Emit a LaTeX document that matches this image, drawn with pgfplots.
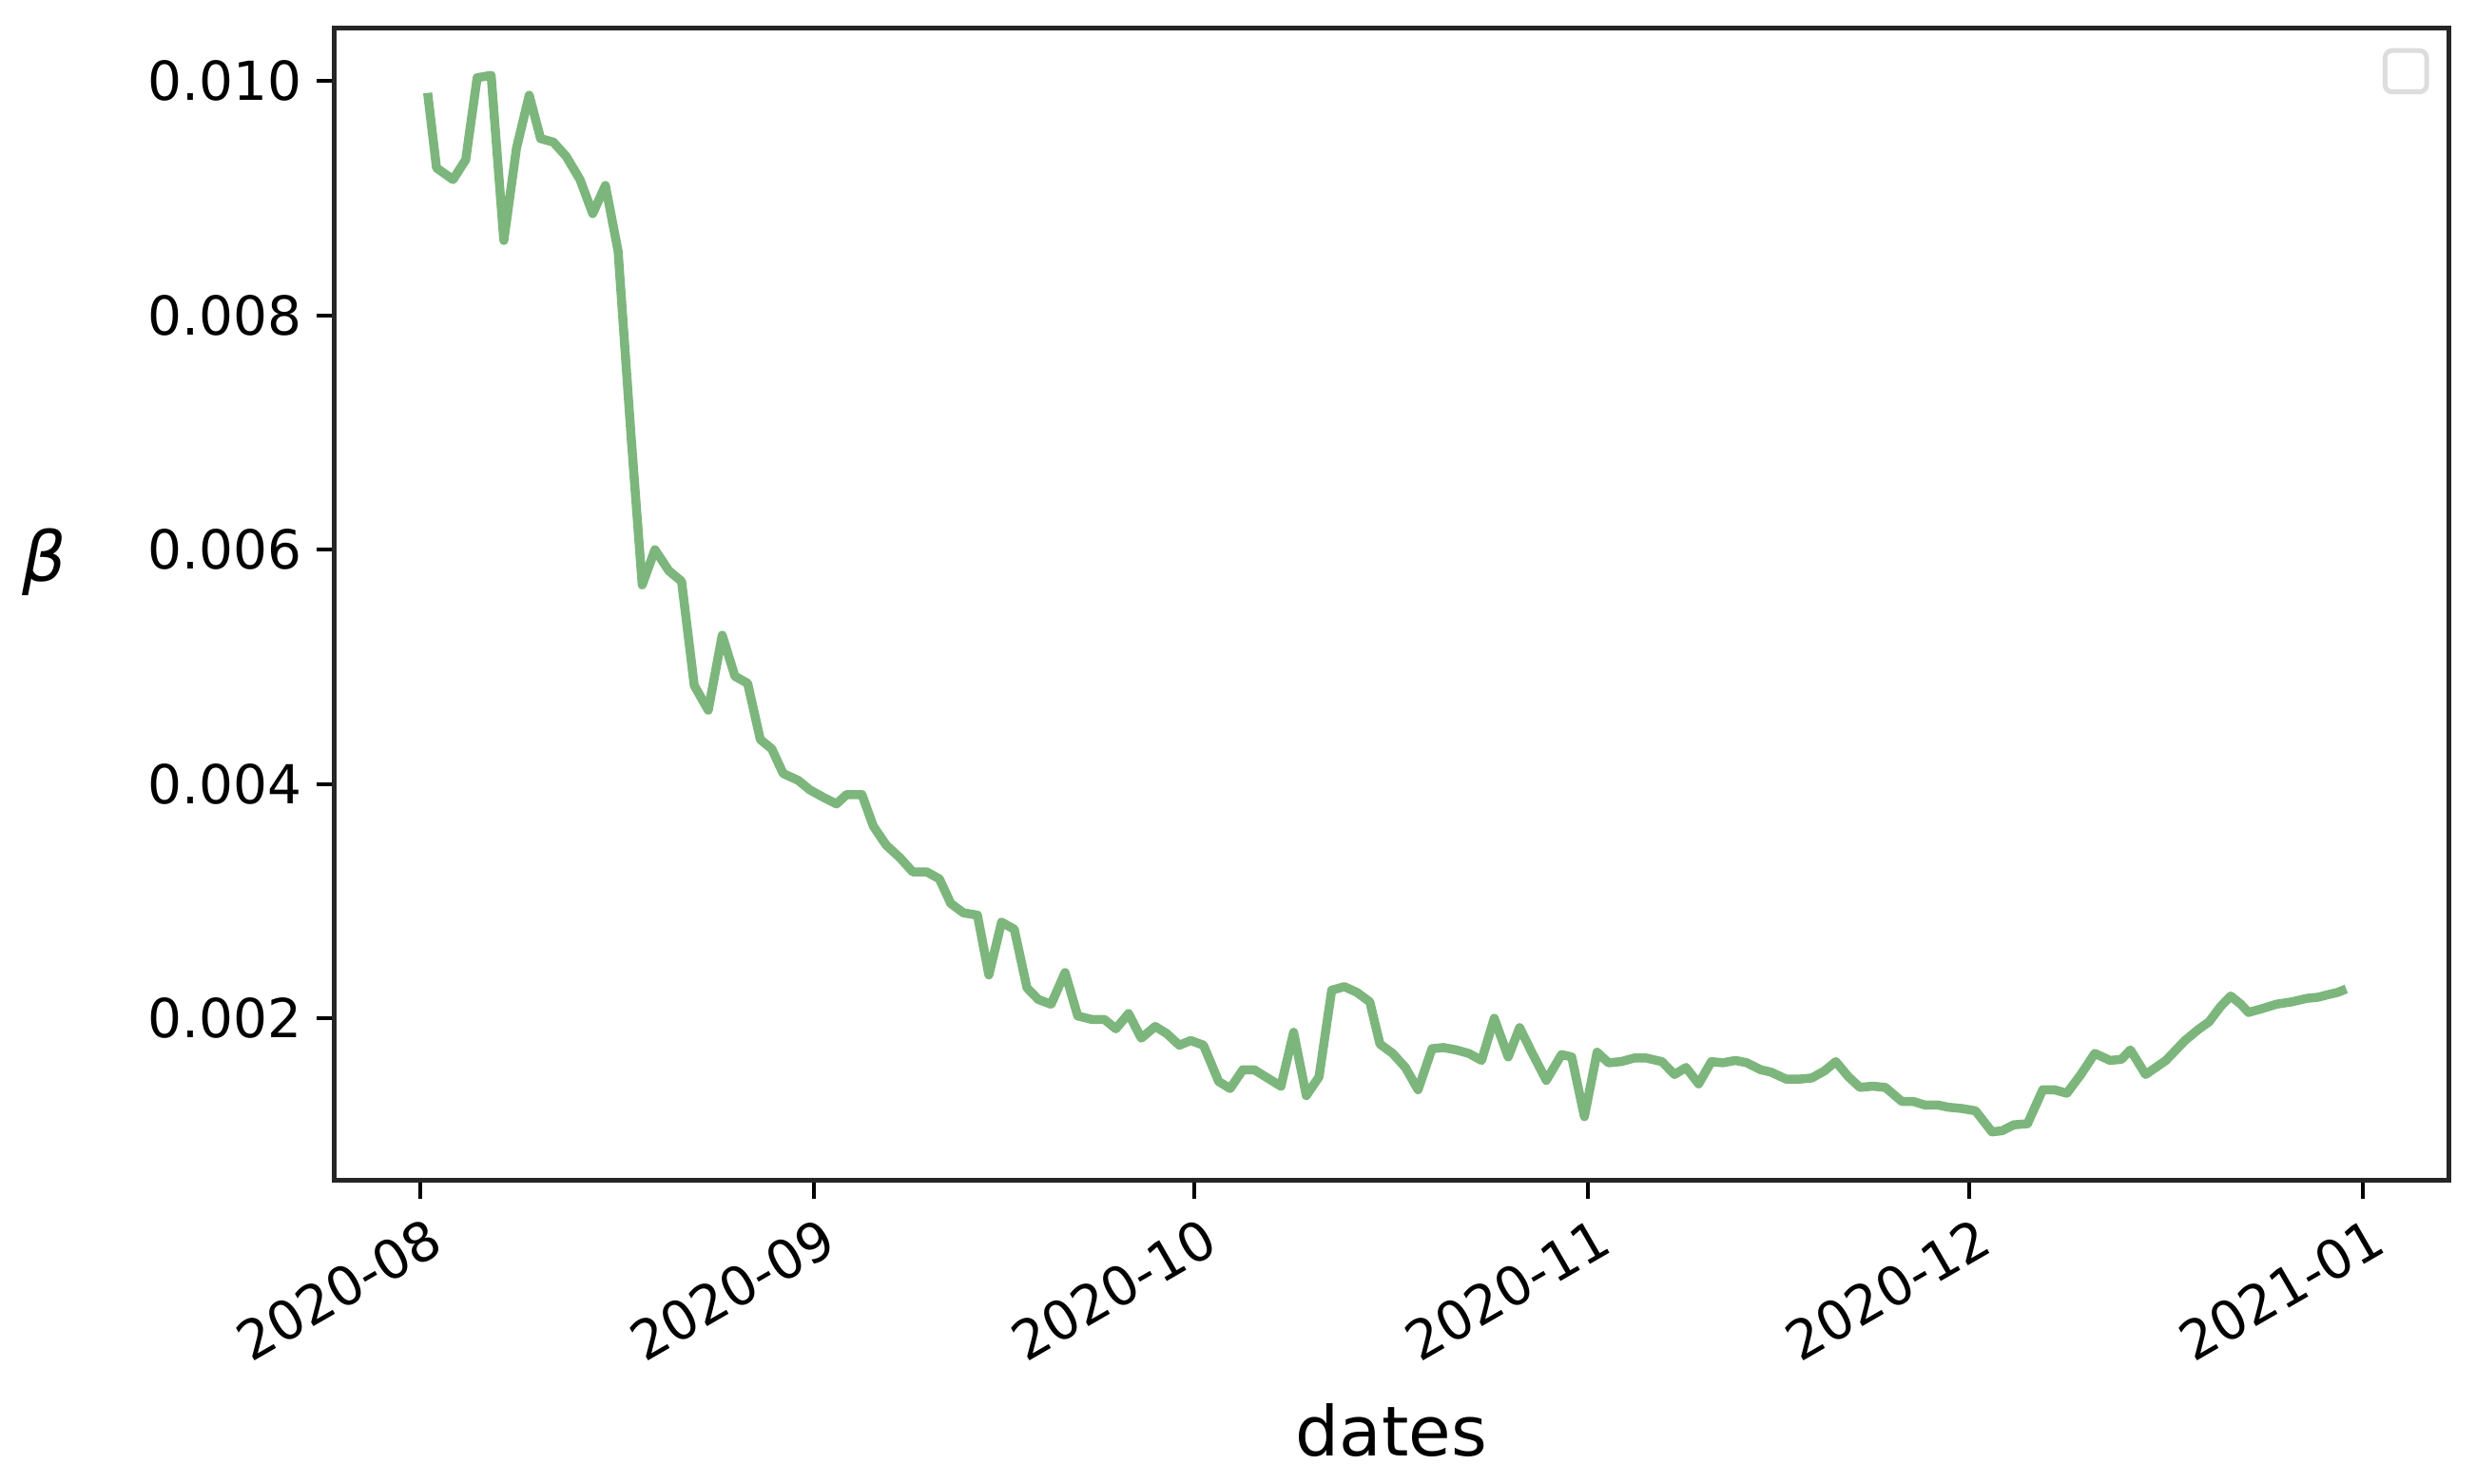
\documentclass[border=0pt]{standalone}
\usepackage{fontspec}
\setmainfont{DejaVu Sans}
\usepackage{pgfplots}
\pgfplotsset{compat=1.18}
\definecolor{linegreen}{RGB}{124,182,124}
\definecolor{legendgray}{RGB}{221,221,221}
\begin{document}
\begin{tikzpicture}
\begin{axis}[
  scale only axis,
  width=444.6pt, height=242.4pt,
  xmin=-6.72, xmax=159.75,
  ymin=0.000613, ymax=0.01045,
  axis line style={line width=1pt, black!85},
  tick align=outside,
  tick style={line width=0.8pt, black},
  major tick length=3.8pt,
  xtick={0,31,61,92,122,153},
  xticklabels={2020-08,2020-09,2020-10,2020-11,2020-12,2021-01},
  ytick={0.002,0.004,0.006,0.008,0.010},
  yticklabels={0.002,0.004,0.006,0.008,0.010},
  scaled y ticks=false,
  xtick pos=bottom, ytick pos=left,
  /pgf/number format/assume math mode=true,
  ticklabel style={font=\fontsize{11.3}{13.5}\selectfont},
  xticklabel style={rotate=30, anchor=north east, inner sep=0pt, yshift=-3.5pt, xshift=-0.5pt},
  yticklabel style={anchor=east, inner sep=0pt, xshift=-3pt},
  xlabel={dates},
  xlabel style={font=\fontsize{14.5}{17}\selectfont, at={(axis description cs:0.5,0)}, anchor=base, yshift=-57.8pt},
  ylabel={\itshape β},
  ylabel style={font=\fontsize{14.5}{17}\selectfont, rotate=-90, at={(axis description cs:0,0.5)}, anchor=center, xshift=-61pt, yshift=9pt},
]
\addplot[color=linegreen, line width=1.9pt, line join=round] coordinates {
(0.6,0.00990) (1.3,0.00926) (2.6,0.00916) (3.6,0.00933) (4.5,0.01003)
(5.6,0.01005) (6.6,0.00864) (7.6,0.00943) (8.6,0.00988) (9.5,0.00951)
(10.5,0.00948) (11.5,0.00936) (12.6,0.00916) (13.6,0.00887) (14.6,0.00911)
(15.6,0.00855) (16.6,0.00700) (17.5,0.00570) (18.5,0.00600) (19.6,0.00582)
(20.6,0.00573) (21.6,0.00484) (22.7,0.00463) (23.8,0.00527) (24.8,0.00492)
(25.8,0.00486) (26.8,0.00438) (27.7,0.00430) (28.6,0.00409) (29.8,0.00403)
(30.7,0.00395) (31.7,0.00389) (32.8,0.00383) (33.6,0.00391) (34.8,0.00391)
(35.7,0.00364) (36.7,0.00348) (37.8,0.00337) (38.8,0.00325) (39.9,0.00325)
(40.9,0.00319) (41.8,0.00298) (42.8,0.00290) (43.9,0.00288) (44.8,0.00237)
(45.8,0.00282) (46.8,0.00276) (47.8,0.00226) (48.7,0.00216) (49.7,0.00212)
(50.8,0.00239) (51.8,0.00202) (52.9,0.00199) (53.9,0.00199) (54.8,0.00191)
(55.8,0.00204) (56.8,0.00183) (57.9,0.00193) (58.8,0.00187) (59.8,0.00177)
(60.7,0.00181) (61.7,0.00177) (62.9,0.00146) (63.8,0.00140) (64.8,0.00156)
(65.7,0.00156) (66.9,0.00148) (67.8,0.00142) (68.8,0.00188) (69.8,0.00134)
(70.8,0.00150) (71.8,0.00224) (72.8,0.00227) (73.8,0.00222) (74.8,0.00214)
(75.6,0.00178) (76.6,0.00170) (77.6,0.00158) (78.6,0.00139) (79.7,0.00174)
(80.6,0.00175) (81.6,0.00173) (82.6,0.00170) (83.6,0.00164) (84.6,0.00200)
(85.7,0.00167) (86.6,0.00192) (87.6,0.00170) (88.7,0.00147) (89.9,0.00169)
(90.7,0.00167) (91.7,0.00116) (92.7,0.00171) (93.6,0.00162) (94.6,0.00163)
(95.6,0.00166) (96.6,0.00166) (97.8,0.00163) (98.8,0.00152) (99.7,0.00158)
(100.7,0.00144) (101.7,0.00163) (102.6,0.00162) (103.6,0.00164) (104.5,0.00162)
(105.6,0.00156) (106.4,0.00154) (107.6,0.00148) (108.6,0.00148) (109.6,0.00149)
(110.6,0.00155) (111.5,0.00163) (112.5,0.00150) (113.4,0.00141) (114.4,0.00142)
(115.4,0.00141) (116.7,0.00129) (117.6,0.00129) (118.5,0.00126) (119.5,0.00126)
(120.4,0.00124) (121.4,0.00123) (122.5,0.00121) (123.8,0.00103) (124.6,0.00104)
(125.5,0.00109) (126.6,0.00110) (127.8,0.00139) (128.7,0.00139) (129.7,0.00136)
(130.8,0.00152) (131.9,0.00170) (133.1,0.00164) (134.0,0.00165) (134.7,0.00173)
(135.9,0.00152) (137.5,0.00164) (139.0,0.00181) (140.0,0.00190) (140.9,0.00197)
(141.8,0.00210) (142.6,0.00219) (143.4,0.00212) (144.0,0.00205) (145.0,0.00208)
(146.2,0.00212) (147.4,0.00214) (148.6,0.00217) (149.5,0.00218) (150.2,0.00220)
(151.0,0.00222) (151.7,0.00225)
};
\draw[legendgray, line width=1pt, rounded corners=1.5pt]
  (rel axis cs:0.970,0.945) rectangle (rel axis cs:0.9897,0.9808);
\end{axis}
\pgfresetboundingbox
\path[use as bounding box] (-70.4pt,-63.8pt) rectangle (450.4pt,248.4pt);
\end{tikzpicture}
\end{document}
